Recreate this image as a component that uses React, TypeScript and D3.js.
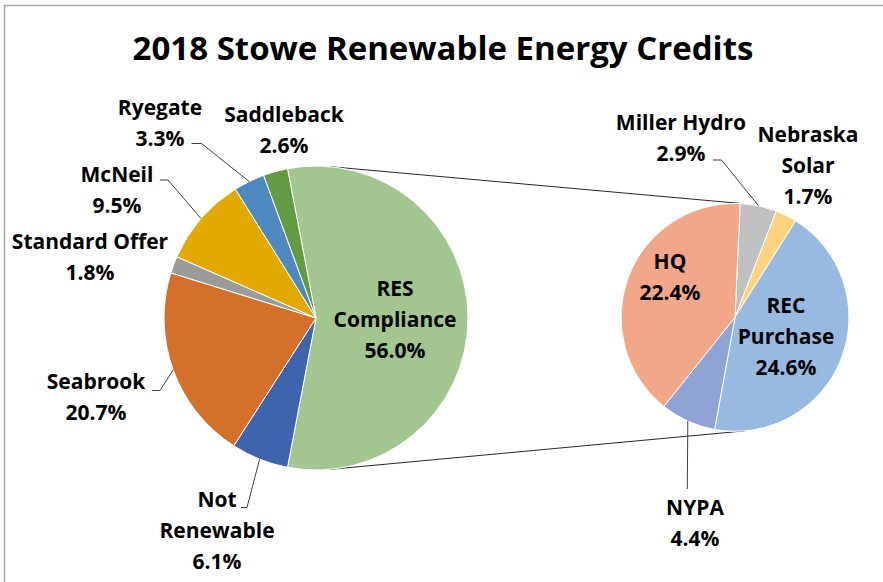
import React from "react";
import * as d3 from "d3";

// ---- data ----
const mainNames = ["RES Compliance", "Not Renewable", "Seabrook", "Standard Offer", "McNeil", "Ryegate", "Saddleback"];
const mainValues = [56.0, 6.1, 20.7, 1.8, 9.5, 3.3, 2.6];
const mainColors = ["#A3C590", "#3E64AE", "#D5702A", "#9B9B9B", "#E2AA00", "#4E8AC0", "#629B41"];

const subNames = ["Miller Hydro", "Nebraska Solar", "REC Purchase", "NYPA", "HQ"];
const subValues = [2.9, 1.7, 24.6, 4.4, 22.4];
const subColors = ["#C0C0C0", "#FFD27F", "#98BAE0", "#8FA3D5", "#F1A788"];

const labelLines: Record<string, string[]> = {
  "RES Compliance": ["RES", "Compliance"],
  "Not Renewable": ["Not", "Renewable"],
  "Nebraska Solar": ["Nebraska", "Solar"],
  "REC Purchase": ["REC", "Purchase"],
};

const title = "2018 Stowe Renewable Energy Credits";

// ---- layout (positions / styles) ----
const W = 883, H = 582;
const mainC = { x: 316, y: 318, r: 152 };
const subC = { x: 735, y: 317.3, r: 114 };
const subStartDeg = 2.6;
const FONT = "'Open Sans', sans-serif";
const LINE_H = 31;

// label anchor: center x, first baseline y; leader: elbow points (from slice edge)
const labelPos: Record<string, { x: number; y: number; leader?: [number, number][] }> = {
  "RES Compliance": { x: 395, y: 296 },
  "Not Renewable": { x: 217, y: 507, leader: [[247, 507.5], [241, 507.5]] },
  "Seabrook": { x: 96, y: 389, leader: [[160, 390.5], [152, 390.5]] },
  "Standard Offer": { x: 90, y: 249 },
  "McNeil": { x: 117, y: 182, leader: [[168, 180], [160, 180]] },
  "Ryegate": { x: 160, y: 115, leader: [[201.5, 143.5], [191.5, 143.5]] },
  "Saddleback": { x: 284, y: 122 },
  "Miller Hydro": { x: 681, y: 130, leader: [[721.5, 160], [713, 160]] },
  "Nebraska Solar": { x: 808, y: 142 },
  "REC Purchase": { x: 786, y: 313 },
  "NYPA": { x: 695, y: 515, leader: [[687.3, 489]] },
  "HQ": { x: 670, y: 269 },
};

const rad = (d: number) => (d * Math.PI) / 180;
const polar = (c: { x: number; y: number; r: number }, a: number, r = c.r): [number, number] => [
  c.x + r * Math.sin(a),
  c.y - r * Math.cos(a),
];

export default function App() {
  const total = d3.sum(mainValues);
  const resShare = mainValues[0] / total;
  const mainPie = d3
    .pie<number>()
    .sort(null)
    .value((d) => d)
    .startAngle(Math.PI / 2 - resShare * Math.PI)
    .endAngle(Math.PI / 2 - resShare * Math.PI + 2 * Math.PI);
  const mainArcs = mainPie(mainValues);

  const subPie = d3
    .pie<number>()
    .sort(null)
    .value((d) => d)
    .startAngle(rad(subStartDeg))
    .endAngle(rad(subStartDeg) + 2 * Math.PI);
  const subArcs = subPie(subValues);

  const mainArc = d3.arc<d3.PieArcDatum<number>>().innerRadius(0).outerRadius(mainC.r);
  const subArc = d3.arc<d3.PieArcDatum<number>>().innerRadius(0).outerRadius(subC.r);

  const fmt = (v: number) => `${v.toFixed(1)}%`;

  const renderLabel = (name: string, value: number, key: string) => {
    const p = labelPos[name];
    const lines = [...(labelLines[name] || [name]), fmt(value)];
    return (
      <text key={key} x={p.x} y={p.y} textAnchor="middle" fontFamily={FONT} fontWeight="bold" fontSize={21} fill="#000">
        {lines.map((l, i) => (
          <tspan key={i} x={p.x} y={p.y + i * LINE_H}>
            {l}
          </tspan>
        ))}
      </text>
    );
  };

  const leader = (name: string, edge: [number, number], key: string) => {
    const p = labelPos[name];
    if (!p.leader) return null;
    const pts = [edge, ...p.leader];
    return <path key={key} d={d3.line()(pts) || ""} fill="none" stroke="#404040" strokeWidth={1} />;
  };

  // connector lines between the pies
  const topA = polar(mainC, rad(5.3));
  const topB = polar(subC, rad(subStartDeg));
  const botA = polar(mainC, rad(174.7));
  const botB = polar(subC, rad(175));

  return (
    <svg width={W} height={H} style={{ position: "fixed", left: 0, top: 0, background: "#fff" }}>
      <rect x={0} y={0} width={W} height={H} fill="#fff" />
      <rect x={4.5} y={5.5} width={W + 20} height={H + 20} fill="none" stroke="#A6A6A6" strokeWidth={1.5} />
      <text x={443} y={60} textAnchor="middle" fontFamily={FONT} fontWeight="bold" fontSize={33} fill="#000">
        {title}
      </text>

      <line x1={topA[0]} y1={topA[1]} x2={topB[0]} y2={topB[1]} stroke="#262626" strokeWidth={1} />
      <line x1={botA[0]} y1={botA[1]} x2={botB[0]} y2={botB[1]} stroke="#262626" strokeWidth={1} />

      <g transform={`translate(${mainC.x},${mainC.y})`}>
        {mainArcs.map((a, i) => (
          <path key={i} d={mainArc(a) || ""} fill={mainColors[i]} stroke="#fff" strokeWidth={1} />
        ))}
      </g>
      <g transform={`translate(${subC.x},${subC.y})`}>
        {subArcs.map((a, i) => (
          <path key={i} d={subArc(a) || ""} fill={subColors[i]} stroke="#fff" strokeWidth={1} />
        ))}
      </g>

      {mainArcs.map((a, i) => leader(mainNames[i], polar(mainC, (a.startAngle + a.endAngle) / 2), "ml" + i))}
      {subArcs.map((a, i) => leader(subNames[i], polar(subC, (a.startAngle + a.endAngle) / 2), "sl" + i))}

      {mainArcs.map((a, i) => renderLabel(mainNames[i], mainValues[i], "mt" + i))}
      {subArcs.map((a, i) => renderLabel(subNames[i], subValues[i], "st" + i))}
    </svg>
  );
}
